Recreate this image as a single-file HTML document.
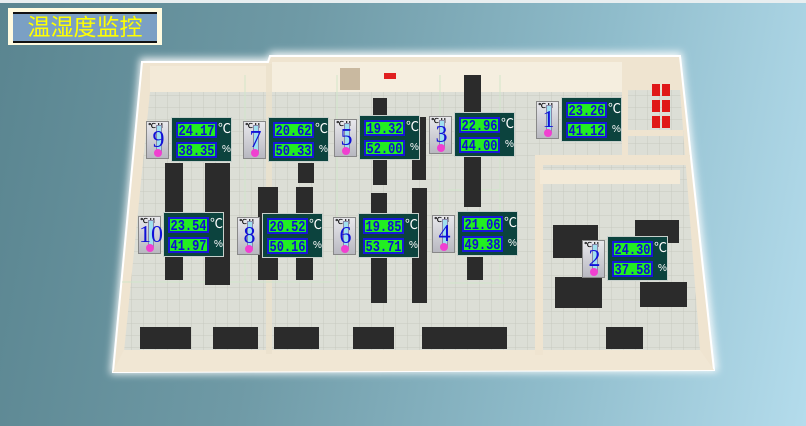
<!DOCTYPE html>
<html><head><meta charset="utf-8">
<style>
html,body{margin:0;padding:0;}
body{width:806px;height:426px;overflow:hidden;position:relative;
background:linear-gradient(100deg,#5a8590 0%,#6f9aa6 35%,#8fbccb 70%,#b4dcec 100%);
font-family:"Liberation Sans","Noto Sans CJK SC",sans-serif;}
#topbar{position:absolute;left:0;top:0;width:806px;height:3px;background:#e8eef0;}
#title{position:absolute;left:8px;top:8px;width:154px;height:37px;background:#fffbe0;}
#title-inner{position:absolute;left:5px;top:4px;width:144px;height:27px;background:#7ba0c4;border-top:2px solid #111;border-bottom:2px solid #111;
color:#ffff00;font-size:23px;line-height:27px;text-align:center;font-family:"Liberation Sans","WenQuanYi Zen Hei",sans-serif;}
svg{position:absolute;left:0;top:0;}
.panel{position:absolute;width:61px;height:45px;background:#0c433e;border:1px solid #c8d0cc;box-sizing:border-box;}
.fld{position:absolute;left:4px;width:41px;height:16px;background:#22ee22;border:2px solid #1818d8;box-sizing:border-box;overflow:hidden;
color:#1010d0;font:bold 15px "Liberation Mono",monospace;white-space:nowrap;display:flex;align-items:center;justify-content:center;padding-top:2px;}
.fld span{display:block;line-height:1;transform:scaleX(0.8);transform-origin:center;margin:0 -8px;}
.unit{position:absolute;left:46px;color:#fff;font:13px/16px "Liberation Sans","Noto Sans CJK SC",sans-serif;}
.icon{position:absolute;width:23px;height:38px;background:linear-gradient(#e8e8ec,#b8b8c0);border:1px solid #888;box-sizing:border-box;}
.icon .ch{position:absolute;left:1px;top:1px;font:bold 7px/8px "Liberation Sans",sans-serif;color:#000;}
.icon .tube{position:absolute;left:9px;top:3px;width:4px;height:26px;background:#9fe0f0;border:1px solid #88a;}
.icon .bulb{position:absolute;left:7px;top:27px;width:8px;height:8px;border-radius:50%;background:#f040d0;}
.icon .num{position:absolute;left:0;top:5px;width:23px;text-align:center;color:#1010d8;font:24px/26px "Liberation Serif",serif;}
</style></head><body>
<div id="topbar"></div>
<svg width="806" height="426">
<defs>
<pattern id="tiles" width="12" height="12" patternUnits="userSpaceOnUse">
<rect width="12" height="12" fill="#dcded6"/><path d="M12 0V12H0" fill="none" stroke="#c7c9c0" stroke-width="1"/>
</pattern>
<filter id="glow"><feGaussianBlur stdDeviation="4"/></filter>
</defs>
<polygon points="140,58 268,58 270,52 682,52 718,372 110,374" fill="#ffffff" filter="url(#glow)" opacity="0.9"/>
<polygon points="142,62 268,62 270,56 680,56 714,370 113,372" fill="#efe4d0" stroke="#fff" stroke-width="2"/>
<polygon points="150,92 680,90 700,350 124,352" fill="url(#tiles)"/>
<rect x="150" y="66" width="120" height="26" fill="#f3ead8"/>
<rect x="272" y="62" width="350" height="30" fill="#f5eedf"/>
<rect x="340" y="68" width="20" height="22" fill="#c9b9a0"/>
<rect x="384" y="73" width="12" height="6" fill="#e02020"/>
<polygon points="124,350 700,350 714,370 113,372" fill="#f1e7d4"/>
<rect x="266" y="64" width="6" height="290" fill="#ebe1cc" opacity="0.8"/>
<rect x="535" y="160" width="8" height="195" fill="#efe4d0"/>
<rect x="535" y="155" width="155" height="10" fill="#efe4d0"/>
<rect x="622" y="60" width="6" height="100" fill="#efe4d0"/>
<rect x="628" y="130" width="55" height="6" fill="#efe4d0"/>
<rect x="540" y="170" width="140" height="14" fill="#f3ead8"/>
<g fill="#e01818">
<rect x="652" y="84" width="8" height="12"/><rect x="662" y="84" width="8" height="12"/>
<rect x="652" y="100" width="8" height="12"/><rect x="662" y="100" width="8" height="12"/>
<rect x="652" y="116" width="8" height="12"/><rect x="662" y="116" width="8" height="12"/></g>
<g stroke="#cfe6c8" stroke-width="1" fill="none" opacity="0.9">
<line x1="245" y1="75" x2="245" y2="282"/><line x1="337" y1="75" x2="337" y2="282"/>
<line x1="440" y1="75" x2="440" y2="282"/><line x1="500" y1="75" x2="500" y2="282"/>
<line x1="122" y1="282" x2="330" y2="282"/><line x1="448" y1="190" x2="500" y2="190"/><line x1="448" y1="283" x2="505" y2="283"/>
</g>
<g fill="#2b2b2b">
<rect x="165" y="163" width="18" height="117"/><rect x="205" y="163" width="25" height="122"/>
<rect x="258" y="187" width="20" height="93"/><rect x="296" y="187" width="17" height="93"/>
<rect x="298" y="163" width="16" height="20"/>
<rect x="373" y="98" width="14" height="87"/><rect x="371" y="193" width="16" height="110"/>
<rect x="412" y="117" width="14" height="63"/><rect x="412" y="188" width="15" height="115"/>
<rect x="464" y="75" width="17" height="132"/><rect x="467" y="257" width="16" height="23"/>
<rect x="140" y="327" width="51" height="22"/><rect x="213" y="327" width="45" height="22"/>
<rect x="274" y="327" width="45" height="22"/><rect x="353" y="327" width="41" height="22"/>
<rect x="422" y="327" width="85" height="22"/><rect x="606" y="327" width="37" height="22"/>
<rect x="553" y="225" width="45" height="33"/><rect x="555" y="277" width="47" height="31"/>
<rect x="635" y="220" width="44" height="23"/><rect x="640" y="282" width="47" height="25"/>
</g>
</svg>
<div id="title"><div id="title-inner">温湿度监控</div></div>
<div id="sensors"></div>
<script>
const sensorIds=[9,7,5,3,1,10,8,6,4,2];
const temps=["24.17","20.62","19.32","22.96","23.26","23.54","20.52","19.85","21.06","24.30"];
const humids=["38.35","50.33","52.00","44.00","41.12","41.97","50.16","53.71","49.38","37.58"];
const panelX=[171,268,359,454,561,163,262,358,457,607];
const panelY=[117,117,115,112,97,212,213,213,211,236];
const layer=document.getElementById('sensors');
for(let i=0;i<sensorIds.length;i++){
  const id=sensorIds[i];
  const ic=document.createElement('div');
  ic.className='icon';
  
  
  ic.style.left=(panelX[i]-25)+'px';ic.style.top=(panelY[i]+4)+'px';
  ic.innerHTML='<span class="ch">℃ H</span><span class="tube"></span><span class="bulb"></span><span class="num">'+id+'</span>';
  layer.appendChild(ic);
  const p=document.createElement('div');
  p.className='panel';
  
  
  p.style.left=panelX[i]+'px';p.style.top=panelY[i]+'px';
  const t=document.createElement('div');t.className='fld';t.style.top='4px';
  const ts=document.createElement('span');ts.textContent=temps[i];t.appendChild(ts);
  
  
  const tu=document.createElement('div');tu.className='unit';tu.style.top='3px';tu.textContent='℃';
  
  
  const h=document.createElement('div');h.className='fld';h.style.top='24px';
  const hs=document.createElement('span');hs.textContent=humids[i];h.appendChild(hs);
  
  
  const hu=document.createElement('div');hu.className='unit';hu.style.top='24px';hu.style.left='50px';hu.style.fontSize='10px';hu.textContent='%';
  
  
  p.appendChild(t);p.appendChild(tu);p.appendChild(h);p.appendChild(hu);
  layer.appendChild(p);
}
</script>
</body></html>
